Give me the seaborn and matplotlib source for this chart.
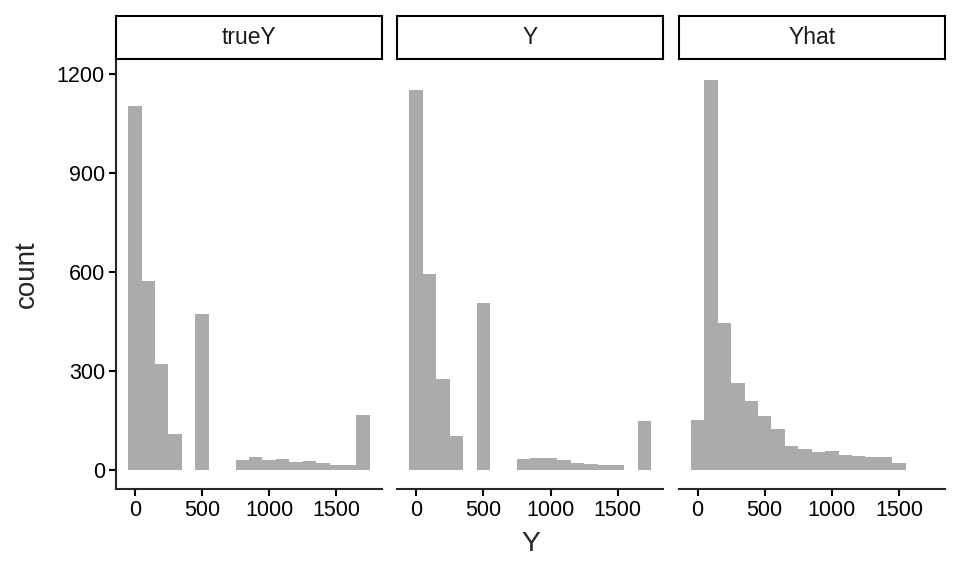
import numpy as np
import pandas as pd
import matplotlib
matplotlib.use("Agg")
import matplotlib.pyplot as plt
import seaborn as sns

# histogram bins (binwidth 100, centred on multiples of 100)
panels = ["trueY", "Y", "Yhat"]
centers_long = list(range(0, 1800, 100))   # 18 bins
centers_short = list(range(0, 1600, 100))  # 16 bins

trueY_counts = [1103, 572, 320, 108, 0, 472, 0, 0, 30, 38, 30, 33, 23, 26, 20, 14, 14, 166]
Y_counts = [1152, 593, 275, 102, 0, 506, 0, 0, 32, 35, 35, 29, 20, 17, 14, 14, 0, 148]
Yhat_counts = [151, 1182, 445, 263, 208, 163, 123, 72, 63, 54, 57, 44, 41, 38, 38, 20]

x_ticks = [0, 500, 1000, 1500]
y_ticks = [0, 300, 600, 900, 1200]

sns.set_style("ticks")
plt.rcParams['font.family'] = ['Liberation Sans', 'DejaVu Sans']

df = pd.concat([
    pd.DataFrame({"panel": "trueY", "value": centers_long, "n": trueY_counts}),
    pd.DataFrame({"panel": "Y", "value": centers_long, "n": Y_counts}),
    pd.DataFrame({"panel": "Yhat", "value": centers_short, "n": Yhat_counts}),
], ignore_index=True)
edges = [float(e) for e in range(-50, 1800, 100)]

W, H = 960, 576
fig = plt.figure(figsize=(9.6, 5.76), dpi=100)

panel_left = [116, 397.4, 678.7]
panel_w = 266
panel_top, panel_bot = 58.7, 489.3
strip_top = 15.7
lw = 1.5

for i, name in enumerate(panels):
    left = panel_left[i] / W
    ax = fig.add_axes([left, (H - panel_bot) / H, panel_w / W, (panel_bot - panel_top) / H])
    sub = df[df["panel"] == name].reset_index(drop=True)
    sns.histplot(x=sub["value"].to_numpy(), weights=sub["n"].to_numpy(), bins=edges, ax=ax,
                 color="#ABABAB", alpha=1, edgecolor="none", linewidth=0)
    ax.set_xlim(-140, 1840)
    ax.set_ylim(-59.5, 1246)
    ax.set_xticks(x_ticks)
    ax.set_xticklabels([str(t) for t in x_ticks])
    ax.set_xlabel("")
    ax.set_ylabel("")
    for s in ["top", "right"]:
        ax.spines[s].set_visible(False)
    ax.spines["bottom"].set_linewidth(lw)
    ax.tick_params(axis="x", length=5, width=lw, pad=3, labelsize=15.5, colors="black")
    if i == 0:
        ax.set_yticks(y_ticks)
        ax.spines["left"].set_linewidth(lw)
        ax.tick_params(axis="y", length=5, width=lw, pad=3, labelsize=15.5, colors="black")
    else:
        ax.spines["left"].set_visible(False)
        ax.set_yticks([])

    # facet strip
    sax = fig.add_axes([left, (H - panel_top) / H, panel_w / W, (panel_top - strip_top) / H])
    sax.set_xticks([])
    sax.set_yticks([])
    for s in sax.spines.values():
        s.set_visible(True)
        s.set_linewidth(lw)
        s.set_color("black")
    sax.text(0.5, 0.5, name, ha="center", va="center", fontsize=16.5, color="#1A1A1A",
             transform=sax.transAxes)

fig.text(27 / W, 1 - 274 / H, "count", rotation=90, ha="center", va="center", fontsize=20)
fig.text(530.5 / W, 1 - 544 / H, "Y", ha="center", va="center", fontsize=20.5)

fig.savefig("out.png", dpi=100)
